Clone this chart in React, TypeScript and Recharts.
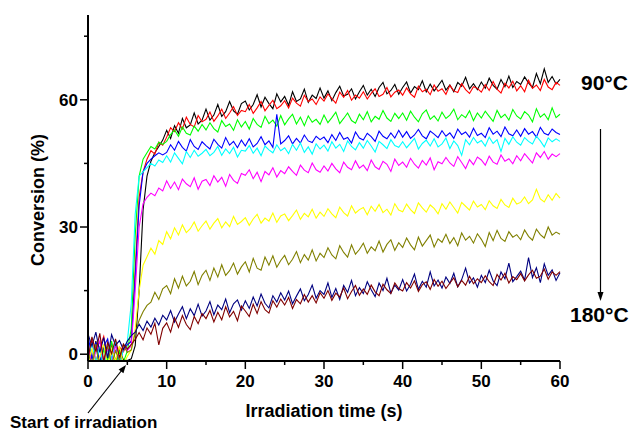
import React from "react";
import { LineChart, Line, XAxis, YAxis } from "recharts";

// sampling times (s)
const TIME = [
  0, 0.5, 1, 1.5, 2, 2.5, 3, 3.5, 4, 4.5,
  5, 5.5, 6, 6.5, 7, 7.5, 8, 8.5, 9, 9.5,
  10, 10.5, 11, 11.5, 12, 12.5, 13, 13.5, 14, 14.5,
  15, 15.5, 16, 16.5, 17, 17.5, 18, 18.5, 19, 19.5,
  20, 20.5, 21, 21.5, 22, 22.5, 23, 23.5, 24, 24.5,
  25, 25.5, 26, 26.5, 27, 27.5, 28, 28.5, 29, 29.5,
  30, 30.5, 31, 31.5, 32, 32.5, 33, 33.5, 34, 34.5,
  35, 35.5, 36, 36.5, 37, 37.5, 38, 38.5, 39, 39.5,
  40, 40.5, 41, 41.5, 42, 42.5, 43, 43.5, 44, 44.5,
  45, 45.5, 46, 46.5, 47, 47.5, 48, 48.5, 49, 49.5,
  50, 50.5, 51, 51.5, 52, 52.5, 53, 53.5, 54, 54.5,
  55, 55.5, 56, 56.5, 57, 57.5, 58, 58.5, 59, 59.5,
  60,
];

// conversion (%) per temperature, 90 °C (top) to 180 °C (bottom)
const BLACK = [
  1.8, -1.2, 3.1, -1.9, 1.4, -0.8, 2.6, -1.7, 0.9, -1.3,
  -1.5, -1.1, 2, 15, 34, 42, 45.5, 47.5, 49, 50.5,
  52.8, 50.9, 53.9, 52.1, 55.6, 53.4, 54.1, 56.9, 54.3, 55.2,
  57.8, 55.2, 56.4, 58.9, 56.1, 57.2, 59.6, 57.4, 56.6, 59.1,
  59.7, 57.6, 58.9, 61.2, 58.3, 60.6, 59.1, 57.9, 61.4, 59.5,
  60.8, 58.7, 61.9, 59.6, 60.2, 62.5, 59.4, 61.1, 60.3, 62.8,
  60.4, 62.1, 59.8, 61.7, 63.2, 60.9, 61.3, 62.6, 60.2, 61.9,
  63.4, 61.1, 62.5, 60.8, 62.9, 64.1, 61.4, 62.2, 63.6, 61.3,
  62.9, 64.2, 61.6, 63.1, 62.4, 64.5, 61.9, 63.7, 62.1, 63.3,
  64.6, 62.3, 63.5, 61.9, 64.1, 63.2, 65.3, 62.6, 63.8, 62.4,
  64.2, 62.7, 65.1, 63.4, 62.5, 64.8, 63.1, 65.6, 62.9, 64.3,
  63.6, 65.4, 64, 62.9, 66.2, 63.8, 67.3, 64.1, 65.5, 63.7,
  64.8,
];
const RED = [
  -1.1, 3.4, -1.9, 1.6, 4.2, -0.9, 2.3, -2.4, 1.7, 0.6,
  2.4, 3, 20, 37, 43, 46, 48, 47.2, 50, 49.3,
  51.2, 53.4, 52.5, 54.6, 53.1, 55.9, 54.2, 53.6, 56.3, 54.8,
  55.4, 57.1, 54.9, 56.2, 57.8, 55.6, 56.9, 58.4, 56.3, 57.5,
  57.2, 58.9, 56.8, 58.1, 59.6, 57.4, 58.7, 59.9, 57.9, 58.6,
  59.8, 58.1, 60.4, 59.2, 58.5, 61.1, 59.6, 60.2, 58.9, 60.7,
  59.7, 61.4, 60.3, 59.2, 61.8, 60.6, 62.2, 59.9, 61.1, 60.4,
  61.9, 60.2, 61.5, 62.6, 60.8, 61.3, 62.9, 60.7, 61.8, 62.3,
  61.1, 62.8, 61.4, 60.6, 63.2, 61.9, 62.5, 61.2, 63.5, 62,
  62.6, 61.3, 63.4, 62.1, 61.7, 63.8, 62.4, 61.5, 63.1, 62.7,
  61.8, 63.6, 62.2, 64.3, 62.5, 61.6, 63.9, 62.8, 64.4, 62.1,
  63.3, 61.9, 64.6, 62.7, 63.5, 62.2, 64.8, 63, 62.4, 64.1,
  63.4,
];
const GREEN = [
  0.9, -2.5, 2.4, -3.2, 1.2, -1.6, 3.1, -2.8, 0.7, -1.9,
  0.8, 6, 28, 42, 46, 47.5, 49, 48.4, 50, 49.5,
  50.2, 51.8, 52.9, 51.4, 53.6, 52.1, 51.7, 53.8, 52.6, 54.2,
  52.9, 54.6, 53.2, 52.4, 55.1, 53.7, 54.3, 52.8, 55.3, 53.6,
  54.9, 53.1, 55.6, 54.2, 53.5, 56.1, 54.4, 55.2, 53.8, 56.3,
  54.1, 55.5, 56.6, 54.3, 55.9, 53.9, 56.2, 54.7, 55.4, 54.2,
  56.4, 54.6, 55.8, 57.1, 54.4, 55.6, 56.9, 55.1, 54.5, 56.6,
  55.3, 57.2, 54.8, 56.1, 55.4, 57.5, 55.7, 54.9, 56.8, 55.6,
  56.9, 55.2, 57.3, 55.9, 54.8, 56.7, 57.6, 55.4, 56.2, 55,
  57.1, 55.6, 56.4, 57.8, 55.3, 56.5, 55.8, 57.4, 55.1, 56.9,
  55.7, 57.3, 56.1, 54.9, 57.5, 55.8, 56.6, 55.2, 57.7, 56.2,
  55.5, 57.2, 56.4, 54.8, 57.9, 55.9, 56.7, 55.3, 58.1, 55.8,
  56.6,
];
const BLUE = [
  4.6, -1.1, 2.8, -2.3, 1.9, 3.6, -1.4, 2.5, -2.6, 1.3,
  2.2, 3, 18, 35, 43, 45, 46, 46.8, 47.5, 47,
  47.6, 49.4, 48.1, 50.2, 48.8, 47.9, 50.6, 49, 48.3, 50.1,
  49.2, 48.4, 50.7, 49.5, 48.6, 51.1, 49.3, 50.2, 48.7, 50.5,
  49.1, 50.8, 48.9, 49.7, 51.3, 49.4, 50.3, 48.8, 56.6, 49.6,
  50.4, 51.5, 49.6, 50.9, 49.8, 51.7, 50.3, 49.9, 51.4, 50.6,
  51.2, 49.9, 51.8, 50.4, 52.3, 50.7, 51.1, 49.8, 52.4, 51,
  50.5, 52.1, 51.3, 50.2, 52.6, 51.4, 50.8, 52.2, 51, 52.8,
  51.2, 52.5, 50.9, 51.7, 53, 51.5, 50.8, 52.6, 51.9, 51.1,
  52.7, 51.4, 52.2, 50.9, 53.1, 51.8, 52.4, 51.2, 53.3, 51.6,
  52.1, 51.1, 53.4, 51.9, 52.6, 51.3, 53.6, 52, 51.5, 52.9,
  51.4, 53.2, 51.9, 52.5, 51.2, 53.5, 52.1, 51.7, 53.1, 52.3,
  51.8,
];
const CYAN = [
  -0.8, 2.6, -1.9, 1.7, -3.1, 1.2, -1.3, 3.2, -2.1, 1,
  3, 12, 33, 42, 43, 44, 45, 44.4, 45.8, 45.2,
  46.8, 45.3, 47.5, 46.2, 44.9, 47.8, 46.4, 48.1, 46.7, 47.4,
  48.3, 46.8, 47.6, 49, 46.9, 48.4, 47.3, 48.8, 46.5, 48.1,
  47.9, 49.2, 47.4, 48.6, 46.8, 49.1, 48.2, 47.5, 49.4, 48,
  48.7, 47.3, 49.5, 48.1, 49.8, 47.6, 48.9, 47.2, 49.6, 48.4,
  49.3, 47.9, 50.1, 48.6, 49.5, 47.8, 50.3, 49, 48.2, 49.9,
  48.6, 50.4, 49.1, 47.7, 50.2, 49.4, 48.5, 50.6, 49.2, 48.8,
  50.1, 48.7, 49.8, 50.9, 48.4, 49.7, 50.5, 49.1, 50.8, 48.9,
  49.6, 51, 48.5, 50.3, 49.2, 46.9, 50.6, 49.4, 51.1, 49.8,
  50.4, 49.1, 51.2, 49.7, 50.6, 47.8, 50.9, 49.5, 51.3, 50,
  49.3, 51.1, 50.2, 49.6, 51.4, 50.3, 48.9, 51, 50.1, 50.8,
  50.2,
];
const MAGENTA = [
  1.8, -2.2, 0.6, 3.1, -1.7, 1.4, -2.6, 2.2, -0.9, 1.6,
  0.9, 2, 15, 30, 35.5, 37, 38, 37.4, 39.2, 38.5,
  40.9, 39.1, 40.6, 38.8, 41.3, 40.2, 39.5, 41.6, 38.9, 40.8,
  41.2, 39.8, 42.1, 40.6, 41.7, 39.6, 42.4, 41, 40.3, 42.6,
  42.2, 43.5, 41.4, 42.9, 40.7, 43.1, 42.3, 44, 41.8, 43.3,
  42.6, 44.2, 43.1, 42.2, 44.6, 43.4, 42.8, 45.1, 43.5, 42.9,
  44.4, 43.2, 45, 43.7, 42.8, 45.3, 44.1, 43.5, 45.6, 43.9,
  44.6, 43.3, 45.8, 44.2, 43.6, 45.5, 44.8, 43.1, 46, 44.5,
  45.3, 44.1, 46.2, 44.8, 43.9, 45.7, 44.6, 46.3, 43.5, 45.4,
  44.9, 46.4, 45.1, 44.3, 46.6, 45.2, 43.8, 45.9, 44.7, 46.5,
  45.8, 44.6, 46.7, 45.3, 44.8, 47, 45.5, 46.1, 44.9, 46.8,
  45.6, 47.3, 46.2, 45.1, 47.5, 46.4, 47.8, 46, 47.2, 46.6,
  47.3,
];
const YELLOW = [
  -2.1, 1.4, -3.6, -0.6, 2.3, -2.8, 1.1, -1.6, 1.9, -2.4,
  -0.5, 1, 6, 15, 21, 23, 25, 23.6, 26.8, 25.9,
  28.9, 27.2, 29.8, 28.1, 30.5, 28.7, 29.6, 31.2, 29, 30.3,
  31.4, 29.5, 30.9, 32, 29.8, 31.2, 30.1, 32.5, 30.6, 31.3,
  32.2, 30.4, 31.9, 33, 30.9, 32.1, 31.4, 33.3, 31.1, 32.6,
  33.1, 31.5, 32.7, 34, 31.8, 33.2, 32.4, 34.2, 32.1, 33.5,
  32.5, 34.3, 33.1, 32.2, 34.7, 33.4, 32.6, 35, 33.3, 34.1,
  34.6, 32.9, 34.9, 33.7, 35.3, 33.4, 34.2, 32.8, 35.5, 34,
  33.6, 35.4, 34.1, 33.2, 35.7, 34.5, 33.5, 35.2, 34.4, 33.1,
  35.5, 34.2, 35.9, 34.6, 33.3, 35.8, 34.9, 34, 36.1, 34.7,
  35.3, 34.1, 36.2, 35, 34.4, 36.5, 35.2, 34.6, 36.8, 35.4,
  35.8, 37.1, 35.5, 36.4, 38.9, 36.6, 35.9, 37.6, 36.3, 37.9,
  36.8,
];
const OLIVE = [
  0.6, -2.9, 2.4, -4.1, -1.1, 1.9, -2.5, 0.8, -1.5, 2.2,
  0.4, 1, 5, 8, 10, 11.5, 12.3, 14.6, 12.9, 15.4,
  16.2, 14.3, 17.8, 15.6, 18.4, 16.1, 17.2, 19.5, 16.4, 18.6,
  19.8, 17.4, 20.3, 18.2, 21.1, 18.6, 19.7, 21.5, 18.9, 20.6,
  21.8, 19.4, 22.6, 20.3, 19.8, 22.9, 21, 23.2, 20.5, 22.1,
  23.3, 21.1, 22.4, 24.2, 21.6, 23.5, 22.2, 24.6, 22, 23.8,
  22.8, 25.1, 23.4, 22.5, 25.6, 24, 22.9, 25.8, 23.6, 24.7,
  26.2, 23.8, 25.3, 24.4, 26.7, 24.1, 25.9, 27, 24.5, 26.3,
  25.2, 27.4, 25.8, 24.6, 27.6, 25.5, 26.8, 28.1, 25.3, 27.2,
  26.4, 28.3, 26.1, 27.5, 25.6, 28.6, 26.9, 27.8, 26.2, 28.4,
  27.1, 25.4, 28.7, 26.8, 29.2, 27.3, 26.6, 28.9, 27.6, 28.2,
  27, 29.3, 27.8, 26.9, 29.5, 28.2, 27.4, 30, 28.1, 28.8,
  28.3,
];
const NAVY = [
  4.8, 1.9, 5.2, 0.4, 3.9, -0.9, 4.6, 2.1, 3.2, 1.1,
  3.1, 4.4, 5.2, 7.1, 5.6, 7.8, 6.4, 8.5, 6.9, 9.2,
  8.1, 10.3, 7.6, 9.5, 11.2, 8.4, 10.7, 9.1, 11.8, 9,
  10.2, 12.4, 9.3, 11.6, 10.5, 13, 9.8, 11.9, 12.8, 10.4,
  12.6, 10.8, 13.5, 11.4, 14.2, 12, 10.9, 13.8, 12.3, 14.5,
  12.8, 14.9, 11.9, 13.7, 15.4, 12.6, 14.1, 16.3, 13.2, 15,
  14.1, 16.8, 13.4, 15.5, 12.9, 16.2, 14.6, 17.4, 13.8, 15.7,
  14.3, 17.1, 15.2, 13.6, 16.8, 15, 17.9, 14.4, 16.3, 15.1,
  17.6, 14.9, 16.5, 18.9, 15.3, 17.2, 15.8, 19.4, 16.1, 17.5,
  15.6, 18.2, 16.7, 19.1, 15.9, 17.6, 20.3, 16.8, 18, 15.8,
  18.6, 16.9, 19.8, 17.3, 16.2, 19.4, 17.8, 21.5, 17.1, 18.3,
  19.6, 17.5, 22.8, 18.1, 20.4, 16.9, 21.3, 18.6, 19.9, 17.4,
  19.2,
];
const MAROON = [
  -1.2, 4.1, 0.6, 4.9, -1.9, 2.8, 0.1, 3.6, -0.8, 2.4,
  1.2, 2.3, 3.5, 5.1, 3.4, 6.2, 4.7, 7.3, 2.2, 6.1,
  7.4, 5.2, 8.6, 6.3, 9.1, 7, 5.8, 8.9, 7.2, 9.6,
  8.4, 10.3, 7.6, 9.9, 8.1, 11.2, 8.8, 10.1, 7.9, 11.4,
  10.2, 8.9, 11.8, 9.6, 12.4, 10.5, 9.7, 12.6, 11.1, 13,
  11.6, 13.4, 10.8, 12.9, 11.9, 14.1, 12.3, 13.8, 12.1, 14.5,
  13.2, 15, 12.7, 14.4, 13.5, 15.6, 13.1, 14.8, 16.2, 13.9,
  15.4, 14.1, 16.3, 14.7, 13.8, 16.5, 15.2, 14.3, 16.8, 15.5,
  14.9, 16.9, 15.6, 17.3, 14.8, 16.4, 17.1, 15.3, 17.6, 16,
  17.2, 15.5, 16.8, 18, 15.9, 17.4, 16.3, 18.4, 16.6, 17.8,
  16.9, 18.5, 17.1, 16.2, 18.8, 17.5, 19.1, 16.8, 18.3, 17.6,
  19, 17.3, 18.7, 19.8, 17.9, 18.4, 20.1, 17.7, 19.4, 18.6,
  19.5,
];

const X_TICKS = [0, 5, 10, 15, 20, 25, 30, 35, 40, 45, 50, 55, 60];
const Y_TICKS = [0, 15, 30, 45, 60, 75];

const SERIES = [
  { key: "black", color: "#000000", values: BLACK },
  { key: "red", color: "#ff0000", values: RED },
  { key: "green", color: "#00ff00", values: GREEN },
  { key: "blue", color: "#0000ff", values: BLUE },
  { key: "cyan", color: "#00ffff", values: CYAN },
  { key: "magenta", color: "#ff00ff", values: MAGENTA },
  { key: "yellow", color: "#ffff00", values: YELLOW },
  { key: "olive", color: "#808000", values: OLIVE },
  { key: "navy", color: "#000080", values: NAVY },
  { key: "maroon", color: "#800000", values: MAROON },
];

const FONT = '"Liberation Sans", Arial, Helvetica, sans-serif';

const data = TIME.map((t, i) => {
  const row: Record<string, number> = { t };
  SERIES.forEach((s) => (row[s.key] = s.values[i]));
  return row;
});

function XTick({ x, y, payload }: any) {
  const major = payload.value % 10 === 0;
  return (
    <g>
      <line x1={x} x2={x} y1={y} y2={y + (major ? 8 : 4)} stroke="#000" strokeWidth={1.5} />
      {major && (
        <text x={x} y={y + 26} textAnchor="middle" fontSize={17} fontWeight="bold" fontFamily={FONT} fill="#000">
          {payload.value}
        </text>
      )}
    </g>
  );
}

function YTick({ x, y, payload }: any) {
  const major = payload.value % 30 === 0;
  return (
    <g>
      <line x1={x - (major ? 8 : 4)} x2={x} y1={y} y2={y} stroke="#000" strokeWidth={1.5} />
      {major && (
        <text x={x - 10} y={y + 6} textAnchor="end" fontSize={17} fontWeight="bold" fontFamily={FONT} fill="#000">
          {payload.value}
        </text>
      )}
    </g>
  );
}

export default function App() {
  return (
    <div style={{ position: "absolute", left: 0, top: 0, width: 630, height: 433, background: "#fff" }}>
      <LineChart width={630} height={433} data={data} margin={{ top: 15, right: 70, bottom: 42, left: 28 }}>
        <XAxis
          dataKey="t"
          type="number"
          domain={[0, 60]}
          ticks={X_TICKS}
          interval={0}
          height={30}
          tickSize={0}
          tickMargin={0}
          tickLine={false}
          axisLine={{ stroke: "#000", strokeWidth: 2 }}
          tick={<XTick />}
        />
        <YAxis
          type="number"
          domain={[-1.6, 80]}
          allowDataOverflow
          ticks={Y_TICKS}
          interval={0}
          width={60}
          tickSize={0}
          tickMargin={0}
          tickLine={false}
          axisLine={{ stroke: "#000", strokeWidth: 2 }}
          tick={<YTick />}
        />
        {SERIES.map((s) => (
          <Line
            key={s.key}
            dataKey={s.key}
            type="linear"
            stroke={s.color}
            strokeWidth={1.1}
            dot={false}
            activeDot={false}
            isAnimationActive={false}
          />
        ))}
      </LineChart>
      <svg width={630} height={433} style={{ position: "absolute", left: 0, top: 0, pointerEvents: "none" }}>
        <g fontFamily={FONT} fontWeight="bold" fill="#000">
          <text transform="translate(44,200) rotate(-90)" textAnchor="middle" fontSize={18}>
            Conversion (%)
          </text>
          <text x={324} y={417} textAnchor="middle" fontSize={18}>
            Irradiation time (s)
          </text>
          <text x={581} y={90} fontSize={21}>
            90°C
          </text>
          <text x={570} y={322} fontSize={21}>
            180°C
          </text>
          <text x={10} y={428} fontSize={17}>
            Start of irradiation
          </text>
        </g>
        <line x1={600.5} y1={129} x2={600.5} y2={294} stroke="#000" strokeWidth={1.2} />
        <polygon points="600.5,301 597.5,292 603.5,292" fill="#000" />
        <line x1={88} y1={413} x2={122} y2={370} stroke="#000" strokeWidth={1.2} />
        <polygon points="126,365 123.4,373.2 118.6,369.4" fill="#000" />
      </svg>
    </div>
  );
}
